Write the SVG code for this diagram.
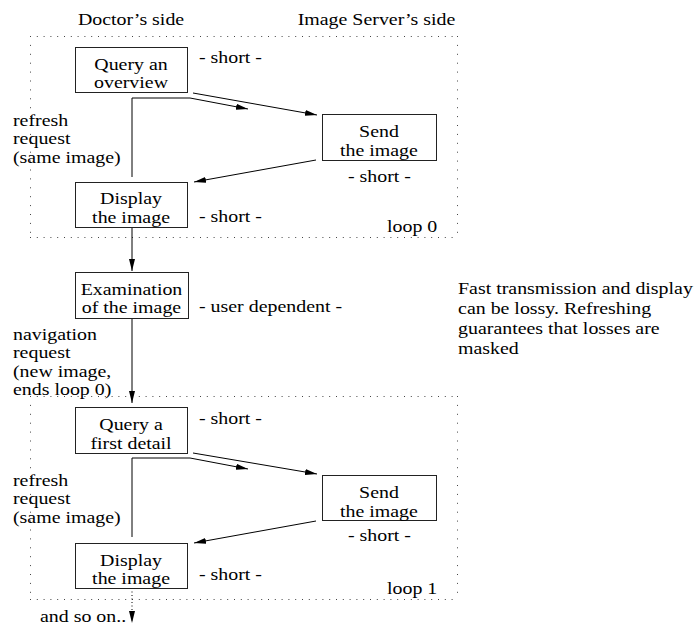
<svg xmlns="http://www.w3.org/2000/svg" width="696" height="625" viewBox="0 0 696 625">
<style>
text{font-size:17px;fill:#000}
.c{text-anchor:middle}
.box{fill:none;stroke:#222;stroke-width:1}
.dh{fill:none;stroke:#444;stroke-width:1;stroke-dasharray:1 5.8}
.dv{fill:none;stroke:#444;stroke-width:1;stroke-dasharray:1 7.9}
.ln{fill:none;stroke:#000;stroke-width:1}
.arr{marker-end:url(#ah)}
</style>
<defs>
<marker id="ah" markerWidth="12" markerHeight="6" refX="12" refY="3" orient="auto" markerUnits="userSpaceOnUse"><path d="M0,0 L12,3 L0,6 z" fill="#000"/></marker>
</defs>
<rect width="696" height="625" fill="#fff"/>
<g font-family="Liberation Serif, Times New Roman, DejaVu Serif, serif">
<g id="headers">
<text class="c" transform="scale(1.17 1)" x="112" y="25">Doctor’s side</text>
<text class="c" transform="scale(1.17 1)" x="321.8" y="25">Image Server’s side</text>
</g>
<g id="loop0">
<path class="dh" d="M30,36.5 H457 M30,237.5 H457"/>
<path class="dv" d="M30.5,36 V237 M457.5,36 V237"/>
<text transform="scale(1.17 1)" x="330.8" y="232">loop 0</text>
</g>
<g id="loop1">
<path class="dh" d="M30,396.5 H457 M30,599.5 H457"/>
<path class="dv" d="M30.5,396 V599 M457.5,396 V599"/>
<text transform="scale(1.17 1)" x="330.8" y="594">loop 1</text>
</g>
<g id="connectors">
<path class="ln arr" d="M193,93 L317,115"/>
<path class="ln arr" d="M132,177 V98 H190 L248,109"/>
<path class="ln arr" d="M316,160 L194,182"/>
<path class="ln arr" d="M132,227 V271"/>
<path class="ln arr" d="M132,318 V403"/>
<path class="ln arr" d="M193,453 L317,474"/>
<path class="ln arr" d="M132,537 V458 H190 L248,469"/>
<path class="ln arr" d="M316,521 L194,543"/>
<path class="ln arr" d="M132,588 V623" stroke-dasharray="1 2.5"/>
</g>
<g id="labels">
<text transform="scale(1.17 1)" x="11.1" y="126">refresh</text>
<text transform="scale(1.17 1)" x="11.1" y="144">request</text>
<text transform="scale(1.17 1)" x="11.1" y="163">(same image)</text>
<text transform="scale(1.17 1)" x="11.1" y="340">navigation</text>
<text transform="scale(1.17 1)" x="11.1" y="358">request</text>
<text transform="scale(1.17 1)" x="11.1" y="377">(new image,</text>
<text transform="scale(1.17 1)" x="11.1" y="395">ends loop 0)</text>
<text transform="scale(1.17 1)" x="11.1" y="486">refresh</text>
<text transform="scale(1.17 1)" x="11.1" y="504">request</text>
<text transform="scale(1.17 1)" x="11.1" y="523">(same image)</text>
<text transform="scale(1.17 1)" x="34.2" y="622">and so on..</text>
<text transform="scale(1.17 1)" x="170.1" y="63">- short -</text>
<text transform="scale(1.17 1)" x="297.4" y="182">- short -</text>
<text transform="scale(1.17 1)" x="170.1" y="222">- short -</text>
<text transform="scale(1.17 1)" x="170.1" y="312">- user dependent -</text>
<text transform="scale(1.17 1)" x="170.1" y="424">- short -</text>
<text transform="scale(1.17 1)" x="297.4" y="541">- short -</text>
<text transform="scale(1.17 1)" x="170.1" y="580">- short -</text>
</g>
<g id="note">
<text transform="scale(1.17 1)" x="391.5" y="294">Fast transmission and display</text>
<text transform="scale(1.17 1)" x="391.5" y="314">can be lossy. Refreshing</text>
<text transform="scale(1.17 1)" x="391.5" y="334">guarantees that losses are</text>
<text transform="scale(1.17 1)" x="391.5" y="354">masked</text>
</g>
<g id="query-overview">
<rect class="box" x="75.5" y="47.5" width="112" height="45"/>
<text class="c" transform="scale(1.17 1)" x="112" y="70">Query an</text>
<text class="c" transform="scale(1.17 1)" x="112" y="88">overview</text>
</g>
<g id="send-image-0">
<rect class="box" x="322.5" y="114.5" width="114" height="46"/>
<text class="c" transform="scale(1.17 1)" x="323.9" y="137">Send</text>
<text class="c" transform="scale(1.17 1)" x="323.9" y="156">the image</text>
</g>
<g id="display-image-0">
<rect class="box" x="75.5" y="182.5" width="112" height="45"/>
<text class="c" transform="scale(1.17 1)" x="112" y="204">Display</text>
<text class="c" transform="scale(1.17 1)" x="112" y="223">the image</text>
</g>
<g id="examination">
<rect class="box" x="75.5" y="272.5" width="113" height="46"/>
<text class="c" transform="scale(1.17 1)" x="112.4" y="295">Examination</text>
<text class="c" transform="scale(1.17 1)" x="112.4" y="313">of the image</text>
</g>
<g id="query-detail">
<rect class="box" x="75.5" y="407.5" width="112" height="46"/>
<text class="c" transform="scale(1.17 1)" x="112" y="430">Query a</text>
<text class="c" transform="scale(1.17 1)" x="112" y="449">first detail</text>
</g>
<g id="send-image-1">
<rect class="box" x="322.5" y="475.5" width="114" height="45"/>
<text class="c" transform="scale(1.17 1)" x="323.9" y="498">Send</text>
<text class="c" transform="scale(1.17 1)" x="323.9" y="517">the image</text>
</g>
<g id="display-image-1">
<rect class="box" x="75.5" y="543.5" width="112" height="45"/>
<text class="c" transform="scale(1.17 1)" x="112" y="566">Display</text>
<text class="c" transform="scale(1.17 1)" x="112" y="584">the image</text>
</g>
</g>
</svg>
